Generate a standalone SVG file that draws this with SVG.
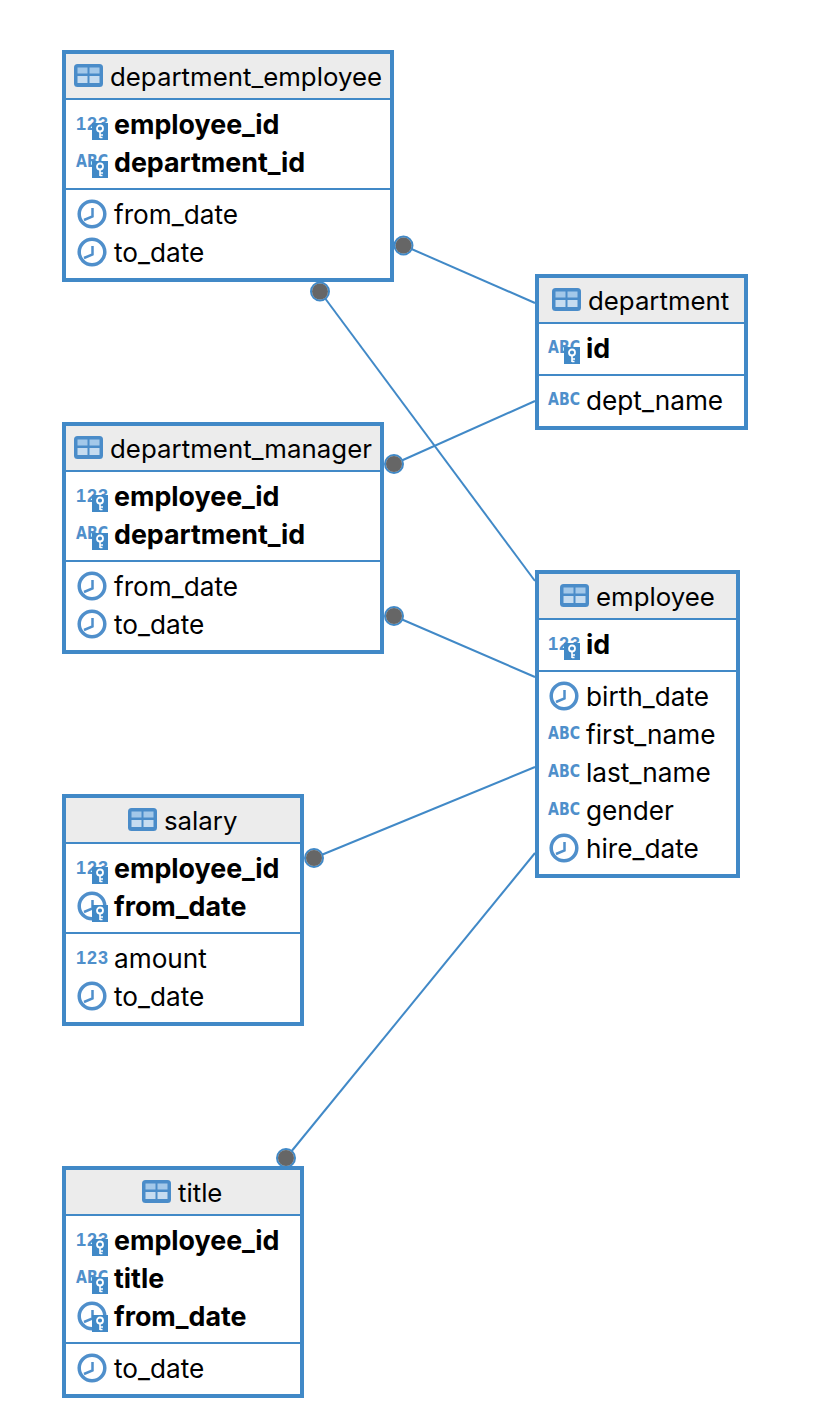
<svg xmlns="http://www.w3.org/2000/svg" width="822" height="1410" viewBox="0 0 822 1410">
<style>
text{font-family:"Inter","Liberation Sans",sans-serif;fill:#000}
.h{font-size:25.8px;dominant-baseline:central;transform:translateY(-0.8px)}
.t{font-size:26.2px;dominant-baseline:central;transform:translateY(-0.8px)}
.b{font-size:26.8px;font-weight:700;dominant-baseline:central;transform:translateY(-0.8px)}
.box{fill:#fff;stroke:#4189c7;stroke-width:4}
.hd{fill:#ececec}
.ln{stroke:#4189c7;stroke-width:2;fill:none}
.c{stroke:#4189c7;stroke-width:2;fill:none}
.abc{font-family:"DejaVu Sans",sans-serif;font-size:17px;font-weight:700;fill:#4f8fcb}
.n123{font-family:"Liberation Sans",sans-serif;font-size:18px;font-weight:700;fill:#4f8fcb}
</style>
<defs>
<g id="tb"><rect x="0" y="0" width="29" height="23" rx="3.5" fill="#4a8cc9"/><rect x="3.5" y="3.5" width="10" height="6" fill="#a3c8e9"/><rect x="15.500" y="3.5" width="10" height="6" fill="#a3c8e9"/><rect x="3.5" y="12" width="10" height="7" fill="#c6dcf0"/><rect x="15.500" y="12" width="10" height="7" fill="#c6dcf0"/></g>
<g id="clk"><circle r="12.8" fill="#fff" stroke="#4f8fcb" stroke-width="3.5"/><path d="M0.500 -6V2.500L-8 6" fill="none" stroke="#4f8fcb" stroke-width="2.500"/></g>
<g id="key"><rect x="0" y="0" width="16" height="17" fill="#4189c7"/><circle cx="8" cy="5.5" r="3" fill="none" stroke="#fff" stroke-width="1.8"/><path d="M8 8.500V15M8 12H11M8 14.500H10.500" stroke="#fff" stroke-width="1.6" fill="none"/></g>
<g id="dot"><circle r="9" fill="#d5e4f1" stroke="#4189c7" stroke-width="2"/><circle r="8" fill="#666"/></g>
</defs>
<rect width="822" height="1410" fill="#fff"/>

<g id="connectors">
<path class="c" d="M403.500 245.500L535 303"/>
<path class="c" d="M320 291.500L535 581"/>
<path class="c" d="M394 464L535 401"/>
<path class="c" d="M394 616L535 677"/>
<path class="c" d="M314 858L535 767"/>
<path class="c" d="M286 1158L535 853"/>
<use href="#dot" x="403.500" y="245.500"/>
<use href="#dot" x="320" y="291.500"/>
<use href="#dot" x="394" y="464"/>
<use href="#dot" x="394" y="616"/>
<use href="#dot" x="314" y="858"/>
<use href="#dot" x="286" y="1158"/>
</g>

<g id="department_employee">
<rect class="box" x="64" y="52" width="328" height="228"/>
<rect class="hd" x="66" y="54" width="324" height="45"/>
<path class="ln" d="M64 99H392M64 189H392"/>
<use href="#tb" x="74" y="64"/>
<text class="h" x="110" y="77" textLength="272">department_employee</text>
<text class="n123" x="76" y="130" textLength="32">123</text><use href="#key" x="92" y="123"/>
<text class="b" x="114" y="125">employee_id</text>
<text class="abc" x="76" y="167" textLength="32" lengthAdjust="spacingAndGlyphs">ABC</text><use href="#key" x="92" y="161"/>
<text class="b" x="114" y="163">department_id</text>
<use href="#clk" x="92" y="214"/><text class="t" x="114" y="215">from_date</text>
<use href="#clk" x="92" y="252"/><text class="t" x="114" y="253">to_date</text>
</g>

<g id="department">
<rect class="box" x="537" y="276" width="209" height="152"/>
<rect class="hd" x="539" y="278" width="205" height="45"/>
<path class="ln" d="M537 323H746M537 375H746"/>
<use href="#tb" x="552" y="288"/>
<text class="h" x="588" y="301">department</text>
<text class="abc" x="548" y="353" textLength="32" lengthAdjust="spacingAndGlyphs">ABC</text><use href="#key" x="564" y="347"/>
<text class="b" x="586" y="349">id</text>
<text class="abc" x="548" y="405" textLength="32" lengthAdjust="spacingAndGlyphs">ABC</text>
<text class="t" x="586" y="401">dept_name</text>
</g>

<g id="department_manager">
<rect class="box" x="64" y="424" width="318" height="228"/>
<rect class="hd" x="66" y="426" width="314" height="45"/>
<path class="ln" d="M64 471H382M64 561H382"/>
<use href="#tb" x="74" y="436"/>
<text class="h" x="110" y="449" textLength="262">department_manager</text>
<text class="n123" x="76" y="502" textLength="32">123</text><use href="#key" x="92" y="495"/>
<text class="b" x="114" y="497">employee_id</text>
<text class="abc" x="76" y="539" textLength="32" lengthAdjust="spacingAndGlyphs">ABC</text><use href="#key" x="92" y="533"/>
<text class="b" x="114" y="535">department_id</text>
<use href="#clk" x="92" y="586"/><text class="t" x="114" y="587">from_date</text>
<use href="#clk" x="92" y="624"/><text class="t" x="114" y="625">to_date</text>
</g>

<g id="employee">
<rect class="box" x="537" y="572" width="201" height="304"/>
<rect class="hd" x="539" y="574" width="197" height="45"/>
<path class="ln" d="M537 619H738M537 671H738"/>
<use href="#tb" x="560" y="584"/>
<text class="h" x="596" y="597">employee</text>
<text class="n123" x="548" y="650" textLength="32">123</text><use href="#key" x="564" y="643"/>
<text class="b" x="586" y="645">id</text>
<use href="#clk" x="564" y="696"/><text class="t" x="586" y="697">birth_date</text>
<text class="abc" x="548" y="739" textLength="32" lengthAdjust="spacingAndGlyphs">ABC</text><text class="t" x="586" y="735">first_name</text>
<text class="abc" x="548" y="777" textLength="32" lengthAdjust="spacingAndGlyphs">ABC</text><text class="t" x="586" y="773">last_name</text>
<text class="abc" x="548" y="815" textLength="32" lengthAdjust="spacingAndGlyphs">ABC</text><text class="t" x="586" y="811">gender</text>
<use href="#clk" x="564" y="848"/><text class="t" x="586" y="849">hire_date</text>
</g>

<g id="salary">
<rect class="box" x="64" y="796" width="238" height="228"/>
<rect class="hd" x="66" y="798" width="234" height="45"/>
<path class="ln" d="M64 843H302M64 933H302"/>
<use href="#tb" x="128" y="808"/>
<text class="h" x="164" y="821">salary</text>
<text class="n123" x="76" y="874" textLength="32">123</text><use href="#key" x="92" y="867"/>
<text class="b" x="114" y="869">employee_id</text>
<use href="#clk" x="92" y="906"/><use href="#key" x="92" y="905"/>
<text class="b" x="114" y="907">from_date</text>
<text class="n123" x="76" y="964" textLength="32">123</text><text class="t" x="114" y="959">amount</text>
<use href="#clk" x="92" y="996"/><text class="t" x="114" y="997">to_date</text>
</g>

<g id="title">
<rect class="box" x="64" y="1168" width="238" height="228"/>
<rect class="hd" x="66" y="1170" width="234" height="45"/>
<path class="ln" d="M64 1215H302M64 1343H302"/>
<use href="#tb" x="142" y="1180"/>
<text class="h" x="178" y="1193">title</text>
<text class="n123" x="76" y="1246" textLength="32">123</text><use href="#key" x="92" y="1239"/>
<text class="b" x="114" y="1241">employee_id</text>
<text class="abc" x="76" y="1283" textLength="32" lengthAdjust="spacingAndGlyphs">ABC</text><use href="#key" x="92" y="1277"/>
<text class="b" x="114" y="1279">title</text>
<use href="#clk" x="92" y="1316"/><use href="#key" x="92" y="1315"/>
<text class="b" x="114" y="1317">from_date</text>
<use href="#clk" x="92" y="1368"/><text class="t" x="114" y="1369">to_date</text>
</g>
</svg>
